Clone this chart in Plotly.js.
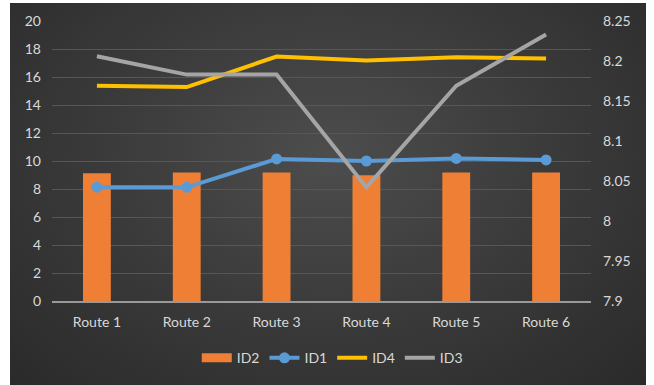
<!DOCTYPE html>
<html>
<head>
<meta charset="utf-8">
<script src="https://cdn.plot.ly/plotly-3.0.1.min.js"></script>
<style>
  html, body { margin: 0; padding: 0; background: #ffffff; }
  #wrap { position: relative; width: 654px; height: 385px; overflow: hidden; }
  #bg { position: absolute; left: 10px; top: 3px; width: 636px; height: 382px;
        background: radial-gradient(ellipse at 50% 40%, #4d4d4d 0%, #3c3c3c 45%, #2a2a2a 100%); }
  #chart { position: absolute; left: 0; top: 0; width: 654px; height: 385px; }
</style>
</head>
<body>
<div id="wrap"><div id="bg"></div><div id="chart"></div></div>
<script>
const categories = ["Route 1", "Route 2", "Route 3", "Route 4", "Route 5", "Route 6"];
const id2 = [9.12, 9.17, 9.18, 8.98, 9.18, 9.18];
const id1 = [8.13, 8.12, 10.15, 10.0, 10.18, 10.08];
const id4 = [15.37, 15.28, 17.46, 17.18, 17.41, 17.32];
const id3 = [8.206, 8.183, 8.183, 8.042, 8.169, 8.233];
const leftTicks = [0, 2, 4, 6, 8, 10, 12, 14, 16, 18, 20];
const rightTicks = [7.9, 7.95, 8, 8.05, 8.1, 8.15, 8.2, 8.25];
const rightTickText = ["7.9", "7.95", "8", "8.05", "8.1", "8.15", "8.2", "8.25"];

const txt = "#d9d9d9";
const fontFam = "Lato, 'Open Sans', sans-serif";
const orange = "#ef7f34";

const traces = [
  // legend-only swatch for ID2 (wide rectangle like the reference)
  { type: "scatter", mode: "lines", name: "ID2", x: categories, y: categories.map(() => null),
    yaxis: "y", legendgroup: "id2", line: { color: orange, width: 9 }, hoverinfo: "skip" },
  { type: "bar", name: "ID2", x: categories, y: id2, yaxis: "y", legendgroup: "id2", showlegend: false,
    marker: { color: orange, line: { width: 0 } }, width: 0.31 },
  { type: "scatter", mode: "lines+markers", name: "ID1", x: categories, y: id1, yaxis: "y",
    line: { color: "#5b9bd5", width: 4 }, marker: { color: "#5b9bd5", size: 11 } },
  { type: "scatter", mode: "lines", name: "ID4", x: categories, y: id4, yaxis: "y",
    line: { color: "#ffc000", width: 4 } },
  { type: "scatter", mode: "lines", name: "ID3", x: categories, y: id3, yaxis: "y2",
    line: { color: "#a5a5a5", width: 4 } }
];

const layout = {
  width: 654, height: 385,
  paper_bgcolor: "rgba(0,0,0,0)",
  plot_bgcolor: "rgba(0,0,0,0)",
  margin: { l: 52, r: 63, t: 21, b: 83 },
  font: { family: fontFam, size: 14, color: txt },
  showlegend: true,
  legend: { orientation: "h", x: 0.52, xanchor: "center", y: -0.2, yanchor: "middle",
            font: { size: 14, color: txt }, bgcolor: "rgba(0,0,0,0)", itemwidth: 30,
            traceorder: "normal" },
  xaxis: { type: "category", showgrid: false, zeroline: false, showline: true,
           linecolor: "#999999", linewidth: 1.5, ticks: "", ticklabelstandoff: 8,
           tickfont: { size: 14, color: txt } },
  yaxis: { range: [0, 20], tickvals: leftTicks, ticktext: leftTicks.map(String),
           showgrid: true, gridcolor: "#575757", gridwidth: 1, zeroline: false,
           showline: false, ticks: "", ticklabelstandoff: 10,
           tickfont: { size: 14, color: txt } },
  yaxis2: { overlaying: "y", side: "right", range: [7.9, 8.25], tickvals: rightTicks,
            ticktext: rightTickText, showgrid: false, zeroline: false, showline: false,
            ticks: "", ticklabelstandoff: 11, tickfont: { size: 14, color: txt } },
  bargap: 0.69
};

Plotly.newPlot("chart", traces, layout, { displayModeBar: false, staticPlot: true });
</script>
</body>
</html>
